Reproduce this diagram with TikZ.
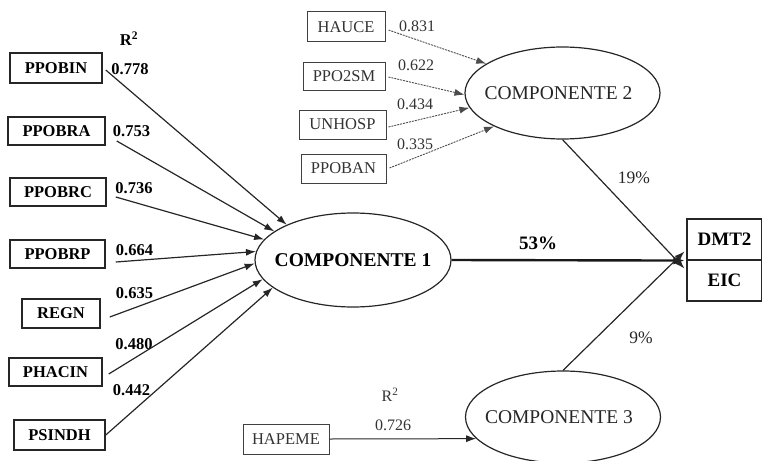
\documentclass[tikz,border=0pt]{standalone}
\usepackage{fontspec}
\setmainfont{Liberation Serif}
\usetikzlibrary{shapes.geometric,arrows.meta,calc}
\begin{document}
\begin{tikzpicture}[x=1pt,y=-1pt,
  lbox/.style={draw=black!85,line width=1.5pt,inner sep=0pt,font=\fontsize{16.5}{18}\selectfont\bfseries},
  tbox/.style={draw=black!75,line width=1pt,inner sep=0pt,text=black!80,font=\fontsize{16.5}{18}\selectfont},
  comp/.style={ellipse,draw=black!85,line width=1.2pt,inner sep=0pt,minimum width=195pt,minimum height=92pt},
  bnum/.style={font=\fontsize{16.5}{18}\selectfont\bfseries,inner sep=0pt},
  tnum/.style={font=\fontsize{16}{18}\selectfont,text=black!80,inner sep=0pt},
  larr/.style={draw=black!85,line width=1.2pt,-{Latex[length=10pt,width=7pt]}},
  tarr/.style={draw=black!70,line width=0.9pt,dash pattern=on 2pt off 1pt,-{Latex[length=10pt,width=7pt]}},
  outb/.style={draw=black!85,line width=1.1pt,inner sep=0pt,minimum width=75pt,minimum height=41pt,font=\fontsize{19}{21}\selectfont\bfseries}
]
\useasboundingbox (0,0) rectangle (762,460);

% ellipses
\node[comp,minimum width=196pt,minimum height=94pt,font=\fontsize{19.5}{22}\selectfont\bfseries] (c1) at (353,260) {\makebox[0pt]{COMPONENTE 1}};
\node[comp,font=\fontsize{19.5}{22}\selectfont,text=black!85] (c2) at (562.5,93) {\makebox[0pt]{\hspace{-8pt}COMPONENTE 2}};
\node[comp,font=\fontsize{19.5}{22}\selectfont,text=black!85] (c3) at (563,417) {\makebox[0pt]{\hspace{-8pt}COMPONENTE 3}};

% outcome box
\node[outb] (dmt) at (724.5,239.5) {DMT2};
\node[outb] (eic) at (724.5,280.5) {EIC};

% left indicator boxes
\node[lbox,minimum width=92pt,minimum height=30pt] (ppobin) at (56,68) {PPOBIN};
\node[lbox,minimum width=97pt,minimum height=28pt] (ppobra) at (56.5,131) {PPOBRA};
\node[lbox,minimum width=96pt,minimum height=28pt] (ppobrc) at (58,192) {PPOBRC};
\node[lbox,minimum width=95pt,minimum height=28pt] (ppobrp) at (57.5,254) {PPOBRP};
\node[lbox,minimum width=78pt,minimum height=29pt] (regn) at (61,313.5) {REGN};
\node[lbox,minimum width=93pt,minimum height=28pt] (phacin) at (55.5,372) {PHACIN};
\node[lbox,minimum width=91pt,minimum height=30pt] (psindh) at (59.5,435) {PSINDH};

% left loadings
\node[bnum] (r2a) at (129,39) {R\textsuperscript{2}};
\node[bnum] (l1) at (130,69) {0.778};
\node[bnum] (l2) at (131.5,131) {0.753};
\node[bnum] (l3) at (134,188) {0.736};
\node[bnum] (l4) at (134.5,250) {0.664};
\node[bnum] (l5) at (134.5,293) {0.635};
\node[bnum] (l6) at (134,344) {0.480};
\node[bnum] (l7) at (131.5,390) {0.442};

% left arrows
\draw[larr] ([xshift=3pt,yshift=-2pt]ppobin.east) -- (c1.152.5);
\draw[larr] ([xshift=11pt,yshift=-10pt]ppobra.east) -- (c1.160.9);
\draw[larr] ([xshift=9pt,yshift=-5pt]ppobrc.east) -- (c1.167.5);
\draw[larr] ([xshift=10pt,yshift=-8pt]ppobrp.east) -- (c1.175.8);
\draw[larr] ([xshift=9pt,yshift=-3.5pt]regn.east) -- (c1.182.3);
\draw[larr] ([xshift=6pt,yshift=-2pt]phacin.east) -- (c1.192.7);
\draw[larr] (psindh.east) -- (c1.199.9);

% top indicator boxes
\node[tbox,minimum width=78pt,minimum height=30pt] (hauce) at (346,27) {HAUCE};
\node[tbox,minimum width=82pt,minimum height=28pt] (ppo2sm) at (344,76) {PPO2SM};
\node[tbox,minimum width=87pt,minimum height=29pt] (unhosp) at (342.5,124.5) {UNHOSP};
\node[tbox,minimum width=85pt,minimum height=29pt] (ppoban) at (343.5,168.5) {PPOBAN};

\node[tnum] (t1) at (417,26) {0.831};
\node[tnum] (t2) at (416,65) {0.622};
\node[tnum] (t3) at (415,104) {0.434};
\node[tnum] (t4) at (415,144) {0.335};

\draw[tarr] ([xshift=3pt,yshift=-3pt]hauce.east) -- (c2.159.6);
\draw[tarr] ([xshift=3pt,yshift=-1pt]ppo2sm.east) -- (c2.181);
\draw[tarr] ([xshift=2pt,yshift=-2.5pt]unhosp.east) -- (c2.189.7);
\draw[tarr] ([xshift=3pt,yshift=0.5pt]ppoban.east) -- (c2.206);

% HAPEME
\node[tbox,minimum width=86pt,minimum height=30pt] (hapeme) at (286,439) {HAPEME};
\node[tnum] (r2b) at (390,395) {R\textsuperscript{2}};
\node[tnum] (t5) at (393,425) {0.726};
\draw[larr,line width=1pt] (hapeme.east) -- (c3.194.4);

% paths to outcome
\draw[line width=2.4pt,draw=black!90,-{Latex[length=12pt,width=8pt]}] (c1.east) -- ([xshift=-1pt]dmt.south west);
\draw[larr] (c2.south) -- ([xshift=-2pt,yshift=-8pt]dmt.south west);
\draw[larr] (c3.north) -- ([xshift=-2pt,yshift=8pt]eic.north west);

\node[font=\fontsize{19}{21}\selectfont\bfseries,inner sep=0pt] (p53) at (538,243) {53\%};
\node[font=\fontsize{17.5}{20}\selectfont,text=black!85,inner sep=0pt] (p19) at (634,178) {19\%};
\node[font=\fontsize{17.5}{20}\selectfont,text=black!85,inner sep=0pt] (p9) at (641,338) {9\%};
\end{tikzpicture}
\end{document}
